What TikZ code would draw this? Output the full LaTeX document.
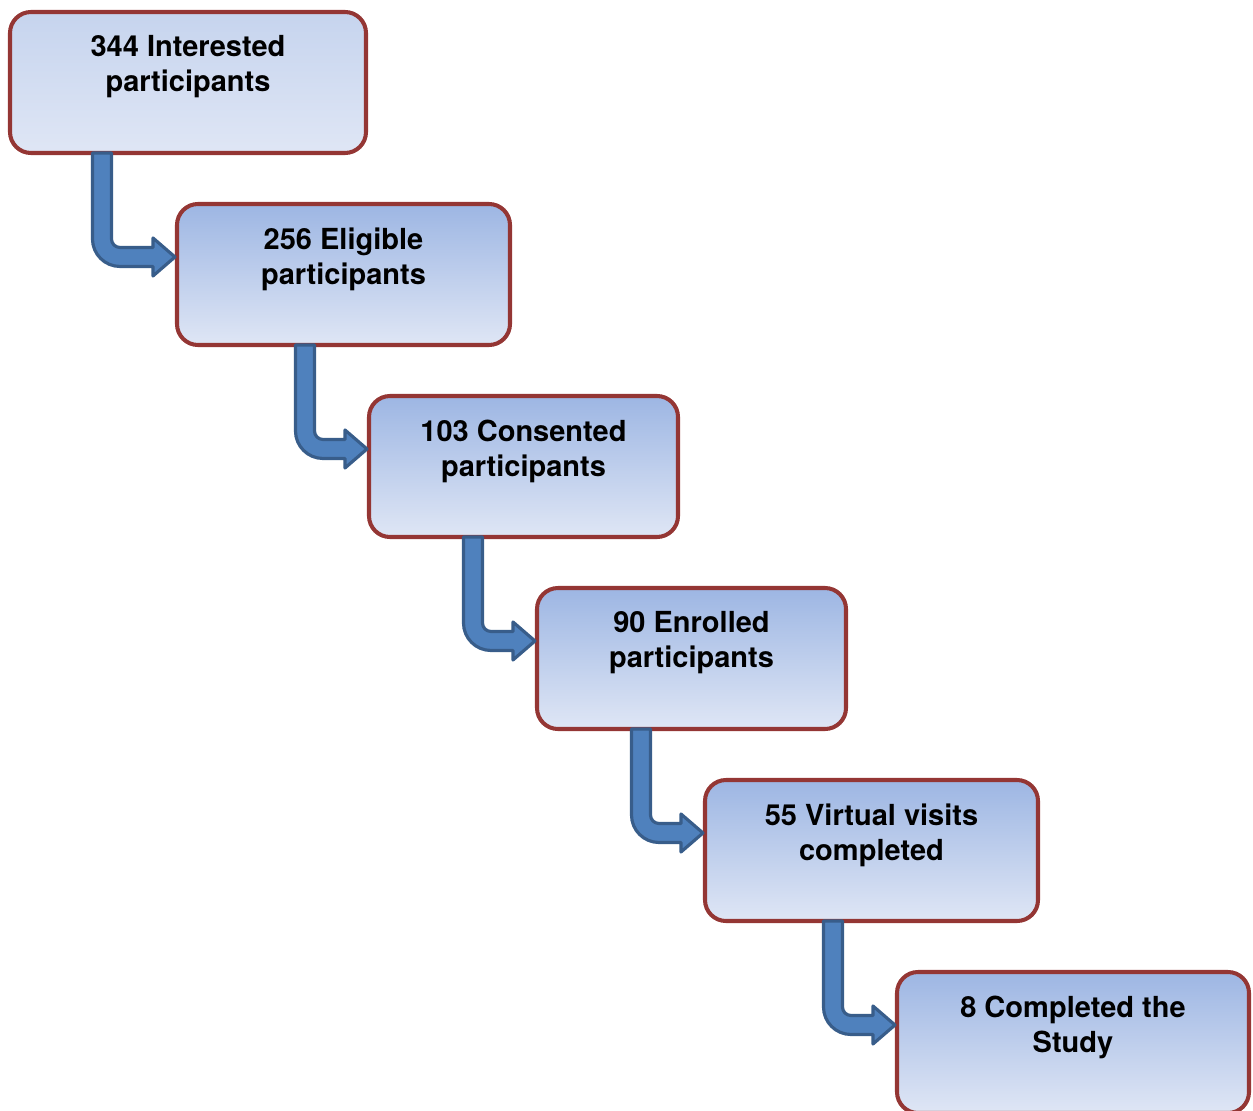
\documentclass[tikz,border=0pt]{standalone}
\usepackage{fontspec}
\setmainfont{TeX Gyre Heros}
\usetikzlibrary{calc}
\definecolor{boxline}{HTML}{943634}
\definecolor{boxtop}{HTML}{9DB6E3}
\definecolor{boxtoplight}{HTML}{C6D4EE}
\definecolor{boxbot}{HTML}{DFE6F5}
\definecolor{arrfill}{HTML}{4F81BD}
\definecolor{arrline}{HTML}{385D8A}
\tikzset{
  box/.style={draw=boxline,line width=2.3pt,rounded corners=0.42cm,
    top color=boxtop,bottom color=boxbot,minimum height=2.82cm,inner sep=0pt},
  boxtext/.style={anchor=north,align=center,inner sep=0pt,yshift=-0.51cm,
    font=\fontsize{16.5}{19.9}\selectfont\bfseries},
  flow/.style={fill=arrfill,draw=arrline,line width=1.8pt,line join=round}
}
% bent block arrow: down from #1, then right to the tip at #2
\newcommand\flowarrow[2]{%
  \path[flow] let \p1=(#1), \p2=(#2) in
    (\x1-0.19cm,\y1) -- (\x1-0.19cm,\y2+0.36cm)
    arc[start angle=180,end angle=270,radius=0.55cm]
    -- (\x2-0.44cm,\y2-0.19cm) -- (\x2-0.44cm,\y2-0.38cm) -- (\x2,\y2)
    -- (\x2-0.44cm,\y2+0.38cm) -- (\x2-0.44cm,\y2+0.19cm)
    -- (\x1+0.36cm,\y2+0.19cm)
    arc[start angle=270,end angle=180,radius=0.17cm]
    -- (\x1+0.19cm,\y1) -- cycle;}

\begin{document}
\begin{tikzpicture}
  \useasboundingbox (0,0) rectangle (25.06,-22.2);
  % boxes
  \foreach \n/\cx/\cy/\w/\c/\txt in {
      1/3.76/-1.65/7.12/boxtoplight/{344 Interested\\participants},
      2/6.87/-5.49/6.66/boxtop/{256 Eligible\\participants},
      3/10.47/-9.33/6.18/boxtop/{103 Consented\\participants},
      4/13.83/-13.17/6.18/boxtop/{90 Enrolled\\participants},
      5/17.43/-17.01/6.66/boxtop/{55 Virtual visits\\completed},
      6/21.46/-20.85/7.04/boxtop/{8 Completed the\\Study}}{
    \node[box,top color=\c,minimum width=\w cm] (b\n) at (\cx,\cy) {};
    \node[boxtext] (t\n) at (b\n.north) {\txt};
  }
  % arrows
  \foreach \a/\b/\dx in {1/2/1.88, 2/3/2.6, 3/4/2.12, 4/5/2.12, 5/6/2.6}
    \flowarrow{$(b\a.south west)+(\dx,0.04)$}{$(b\b.north west)+(0,-1.1)$};
\end{tikzpicture}
\end{document}
